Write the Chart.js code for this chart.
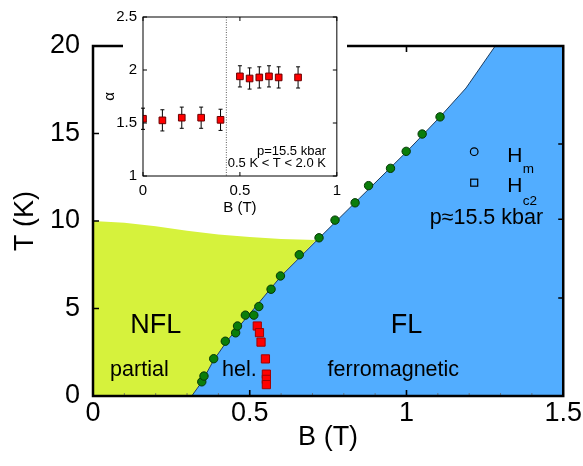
<!DOCTYPE html>
<html>
<head>
<meta charset="utf-8">
<script src="https://cdn.jsdelivr.net/npm/chart.js@4.4.1/dist/chart.umd.min.js"></script>
<style>
html,body{margin:0;padding:0;background:#fff;}
#wrap{position:relative;width:583px;height:466px;overflow:hidden;}
canvas{position:absolute;display:block;}
#main{left:0;top:0;}
#inset{left:95px;top:0;}
</style>
</head>
<body>
<div id="wrap">
<canvas id="main" width="583" height="466"></canvas>
<canvas id="inset" width="252" height="218"></canvas>
</div>
<script>
// ---------------- DATA ----------------
// Main panel: H_m (green circles)
const hmB = [0.347,0.354,0.385,0.422,0.455,0.461,0.486,0.513,0.529,0.568,0.598,0.658,0.721,0.772,0.836,0.879,0.949,0.999,1.050,1.107];
const hmT = [0.81,1.14,2.13,3.13,3.61,4.00,4.62,4.62,5.11,6.10,6.86,8.07,9.04,10.05,11.04,12.02,13.01,13.98,14.97,15.95];
// Main panel: H_c2 (red squares)
const hc2B = [0.524,0.531,0.536,0.550,0.553,0.553,0.553];
const hc2T = [4.00,3.62,3.08,2.12,1.25,0.95,0.65];
// FL / NFL phase boundary
const boundaryB = [0.315,0.347,0.385,0.430,0.500,0.600,0.720,0.850,1.000,1.107,1.190,1.283];
const boundaryT = [0.00,0.80,2.05,3.20,4.70,6.85,9.00,11.30,13.95,15.95,17.60,20.00];
// Upper edge of the NFL (yellow) region
const nflTopB = [0.000,0.100,0.200,0.300,0.400,0.500,0.600,0.712];
const nflTopT = [10.00,9.90,9.70,9.45,9.23,9.08,8.97,8.92];
// Main axes ticks
const xTicksMain = [0,0.5,1,1.5];
const xTickLabelsMain = ['0','0.5','1','1.5'];
const yTicksMain = [0,5,10,15,20];
const yTickLabelsMain = ['0','5','10','15','20'];
const xMinorTicksMain = [0.1,0.2,0.3,0.4,0.6,0.7,0.8,0.9,1.1,1.2,1.3,1.4];
const rightTicksT = [5.6,10.1,14.4];
// Inset: exponent alpha vs B
const insetB = [0,0.1,0.2,0.3,0.4,0.5,0.55,0.6,0.65,0.7,0.8];
const insetAlpha = [1.54,1.525,1.55,1.55,1.53,1.94,1.92,1.93,1.94,1.93,1.93];
const insetErr = [0.1,0.1,0.1,0.1,0.1,0.1,0.1,0.1,0.1,0.1,0.1];
const insetDividerB = 0.43;
const insetXTicks = [0,0.5,1];
const insetXTickLabels = ['0','0.5','1'];
const insetYTicks = [1,1.5,2,2.5];
const insetYTickLabels = ['1','1.5','2','2.5'];

// ---------------- STYLE ----------------
const FONT = "'Liberation Sans', Arial, Helvetica, sans-serif";
Chart.defaults.font.family = FONT;
Chart.defaults.color = '#000';
const BLUE = '#52adff';
const YELLOW = '#d6f23c';

const pts = (xs, ys) => xs.map((v, i) => ({x: v, y: ys[i]}));
const boundaryPts = pts(boundaryB, boundaryT);
const bluePoly = boundaryPts.concat([{x: 1.5, y: 20}, {x: 1.5, y: 0}]);
const cornerT = nflTopT[nflTopT.length - 1];
const yellowPoly = pts(nflTopB, nflTopT)
  .concat(boundaryPts.filter(p => p.y < cornerT).reverse())
  .concat([{x: 0, y: 0}]);

function drawText(ctx, s, px, py, size, align, base) {
  ctx.font = size + 'px ' + FONT;
  ctx.textAlign = align || 'center';
  ctx.textBaseline = base || 'middle';
  ctx.fillText(s, px, py);
}

const mainDecor = {
  id: 'mainDecor',
  afterDatasetsDraw(chart) {
    const {ctx, chartArea: a} = chart;
    const x = chart.scales.x, y = chart.scales.y;
    ctx.save();
    // minor ticks (bottom)
    ctx.strokeStyle = '#666'; ctx.lineWidth = 0.8;
    ctx.beginPath();
    xMinorTicksMain.forEach(v => { const px = x.getPixelForValue(v); ctx.moveTo(px, a.bottom); ctx.lineTo(px, a.bottom - 3); });
    ctx.stroke();
    // major ticks, inside
    ctx.strokeStyle = '#000'; ctx.lineWidth = 1.6;
    ctx.beginPath();
    xTicksMain.forEach(v => {
      const px = x.getPixelForValue(v);
      ctx.moveTo(px, a.bottom); ctx.lineTo(px, a.bottom - 6);
      ctx.moveTo(px, a.top); ctx.lineTo(px, a.top + 6);
    });
    yTicksMain.forEach(v => { const py = y.getPixelForValue(v); ctx.moveTo(a.left, py); ctx.lineTo(a.left + 6, py); });
    rightTicksT.forEach(v => { const py = y.getPixelForValue(v); ctx.moveTo(a.right, py); ctx.lineTo(a.right - 5, py); });
    ctx.stroke();
    // frame
    ctx.lineWidth = 2.5;
    ctx.strokeRect(a.left, a.top, a.right - a.left, a.bottom - a.top);
    // region labels
    ctx.fillStyle = '#000';
    drawText(ctx, 'NFL', x.getPixelForValue(0.2), y.getPixelForValue(4.0), 27);
    drawText(ctx, 'FL', x.getPixelForValue(1.0), y.getPixelForValue(4.05), 27);
    drawText(ctx, 'partial', x.getPixelForValue(0.148), y.getPixelForValue(1.49), 21.5);
    drawText(ctx, 'hel.', x.getPixelForValue(0.467), y.getPixelForValue(1.49), 21.5);
    drawText(ctx, 'ferromagnetic', x.getPixelForValue(0.958), y.getPixelForValue(1.49), 21.5);
    drawText(ctx, 'p\u224815.5 kbar', x.getPixelForValue(1.255), y.getPixelForValue(10.17), 21.5);
    // legend
    const lx = x.getPixelForValue(1.216);
    const ly1 = y.getPixelForValue(13.96), ly2 = y.getPixelForValue(12.19);
    ctx.lineWidth = 1.2; ctx.strokeStyle = '#000';
    ctx.beginPath(); ctx.arc(lx, ly1, 3.8, 0, Math.PI * 2); ctx.stroke();
    ctx.strokeRect(lx - 3.5, ly2 - 3.5, 7, 7);
    drawText(ctx, 'H', lx + 33, ly1 + 10, 21, 'left', 'alphabetic');
    drawText(ctx, 'm', lx + 48.6, ly1 + 21.6, 13.5, 'left', 'alphabetic');
    drawText(ctx, 'H', lx + 33, ly2 + 9.6, 21, 'left', 'alphabetic');
    drawText(ctx, 'c2', lx + 48.6, ly2 + 22.3, 13.5, 'left', 'alphabetic');
    ctx.restore();
  }
};

new Chart(document.getElementById('main'), {
  type: 'scatter',
  data: {
    datasets: [
      {label: 'Hc2', data: pts(hc2B, hc2T), pointStyle: 'rect', pointRadius: 5.8,
       backgroundColor: '#ff0000', borderColor: '#a00000', borderWidth: 1},
      {label: 'Hm', data: pts(hmB, hmT), pointStyle: 'circle', pointRadius: 4.2,
       backgroundColor: '#0a7d0a', borderColor: '#053805', borderWidth: 1},
      {type: 'line', label: 'boundary', data: boundaryPts, borderColor: '#1d3d60', borderWidth: 1,
       pointRadius: 0, fill: false, tension: 0},
      {type: 'line', label: 'FL', data: bluePoly, borderWidth: 0, borderColor: 'rgba(0,0,0,0)',
       backgroundColor: BLUE, pointRadius: 0, fill: 'shape', tension: 0},
      {type: 'line', label: 'NFL', data: yellowPoly, borderWidth: 0, borderColor: 'rgba(0,0,0,0)',
       backgroundColor: YELLOW, pointRadius: 0, fill: 'shape', tension: 0}
    ]
  },
  options: {
    responsive: false, animation: false, devicePixelRatio: 1, events: [],
    layout: {padding: {left: 0, right: 18, top: 46, bottom: 0}},
    plugins: {legend: {display: false}, tooltip: {enabled: false}},
    scales: {
      x: {
        type: 'linear', min: 0, max: 1.5,
        afterBuildTicks: ax => { ax.ticks = xTicksMain.map(v => ({value: v})); },
        afterFit: ax => { ax.height = 70; },
        grid: {display: false, drawTicks: false}, border: {display: false},
        ticks: {font: {size: 27}, color: '#000', padding: 1, maxRotation: 0, autoSkip: false,
                callback: (v, i) => xTickLabelsMain[i]},
        title: {display: true, text: 'B (T)', font: {size: 27}, color: '#000', padding: {top: 0, bottom: 12}}
      },
      y: {
        type: 'linear', min: 0, max: 20,
        afterBuildTicks: ax => { ax.ticks = yTicksMain.map(v => ({value: v})); },
        afterFit: ax => { ax.width = 93; },
        grid: {display: false, drawTicks: false}, border: {display: false},
        ticks: {font: {size: 27}, color: '#000', padding: 13, autoSkip: false,
                callback: (v, i) => yTickLabelsMain[i]},
        title: {display: true, text: 'T (K)', font: {size: 27}, color: '#000', padding: {top: 9, bottom: 0}}
      }
    }
  },
  plugins: [mainDecor]
});

// ---------------- INSET ----------------
const insetDecor = {
  id: 'insetDecor',
  beforeDraw(chart) {
    const ctx = chart.ctx;
    ctx.save();
    ctx.fillStyle = '#fff';
    ctx.fillRect(28, 0, chart.width - 28, 190);
    ctx.restore();
  },
  beforeDatasetsDraw(chart) {
    const {ctx, chartArea: a} = chart;
    const x = chart.scales.x, y = chart.scales.y;
    ctx.save();
    // divider
    ctx.strokeStyle = '#333'; ctx.lineWidth = 0.8; ctx.setLineDash([1, 1.5]);
    const dx = x.getPixelForValue(insetDividerB);
    ctx.beginPath(); ctx.moveTo(dx, a.top); ctx.lineTo(dx, a.bottom); ctx.stroke();
    ctx.setLineDash([]);
    // error bars
    ctx.strokeStyle = '#000'; ctx.lineWidth = 1;
    ctx.beginPath();
    insetB.forEach((b, i) => {
      const px = x.getPixelForValue(b);
      const y1 = y.getPixelForValue(insetAlpha[i] + insetErr[i]);
      const y2 = y.getPixelForValue(insetAlpha[i] - insetErr[i]);
      ctx.moveTo(px, y1); ctx.lineTo(px, y2);
      ctx.moveTo(px - 2, y1); ctx.lineTo(px + 2, y1);
      ctx.moveTo(px - 2, y2); ctx.lineTo(px + 2, y2);
    });
    ctx.stroke();
    ctx.restore();
  },
  afterDatasetsDraw(chart) {
    const {ctx, chartArea: a} = chart;
    const x = chart.scales.x, y = chart.scales.y;
    ctx.save();
    ctx.strokeStyle = '#000'; ctx.lineWidth = 1;
    ctx.beginPath();
    insetXTicks.forEach(v => {
      const px = x.getPixelForValue(v);
      ctx.moveTo(px, a.bottom); ctx.lineTo(px, a.bottom - 4);
      ctx.moveTo(px, a.top); ctx.lineTo(px, a.top + 4);
    });
    insetYTicks.forEach(v => {
      const py = y.getPixelForValue(v);
      ctx.moveTo(a.left, py); ctx.lineTo(a.left + 4, py);
      ctx.moveTo(a.right, py); ctx.lineTo(a.right - 4, py);
    });
    ctx.stroke();
    ctx.strokeRect(a.left, a.top, a.right - a.left, a.bottom - a.top);
    ctx.fillStyle = '#000';
    drawText(ctx, 'p=15.5 kbar', x.getPixelForValue(0.944), y.getPixelForValue(1.229), 13, 'right');
    drawText(ctx, '0.5 K < T < 2.0 K', x.getPixelForValue(0.944), y.getPixelForValue(1.12), 13, 'right');
    ctx.restore();
  }
};

new Chart(document.getElementById('inset'), {
  type: 'scatter',
  data: {
    datasets: [
      {label: 'alpha', data: pts(insetB, insetAlpha), pointStyle: 'rect', pointRadius: 4.7,
       backgroundColor: '#ff0000', borderColor: '#6a0000', borderWidth: 1}
    ]
  },
  options: {
    responsive: false, animation: false, devicePixelRatio: 1, events: [],
    layout: {padding: {left: 0, right: 5, top: 17, bottom: 0}},
    plugins: {legend: {display: false}, tooltip: {enabled: false}},
    scales: {
      x: {
        type: 'linear', min: 0, max: 1,
        afterBuildTicks: ax => { ax.ticks = insetXTicks.map(v => ({value: v})); },
        afterFit: ax => { ax.height = 42; },
        grid: {display: false, drawTicks: false}, border: {display: false},
        ticks: {font: {size: 15}, color: '#000', padding: 6, maxRotation: 0, autoSkip: false,
                callback: (v, i) => insetXTickLabels[i]},
        title: {display: true, text: 'B (T)', font: {size: 15}, color: '#000', padding: {top: 0, bottom: 1}}
      },
      y: {
        type: 'linear', min: 1, max: 2.5,
        afterBuildTicks: ax => { ax.ticks = insetYTicks.map(v => ({value: v})); },
        afterFit: ax => { ax.width = 48; },
        grid: {display: false, drawTicks: false}, border: {display: false},
        ticks: {font: {size: 15}, color: '#000', padding: 6, autoSkip: false,
                callback: (v, i) => insetYTickLabels[i]},
        title: {display: true, text: '\u03b1', font: {size: 15}, color: '#000', padding: {top: 6, bottom: 0}}
      }
    }
  },
  plugins: [insetDecor]
});
</script>
</body>
</html>
